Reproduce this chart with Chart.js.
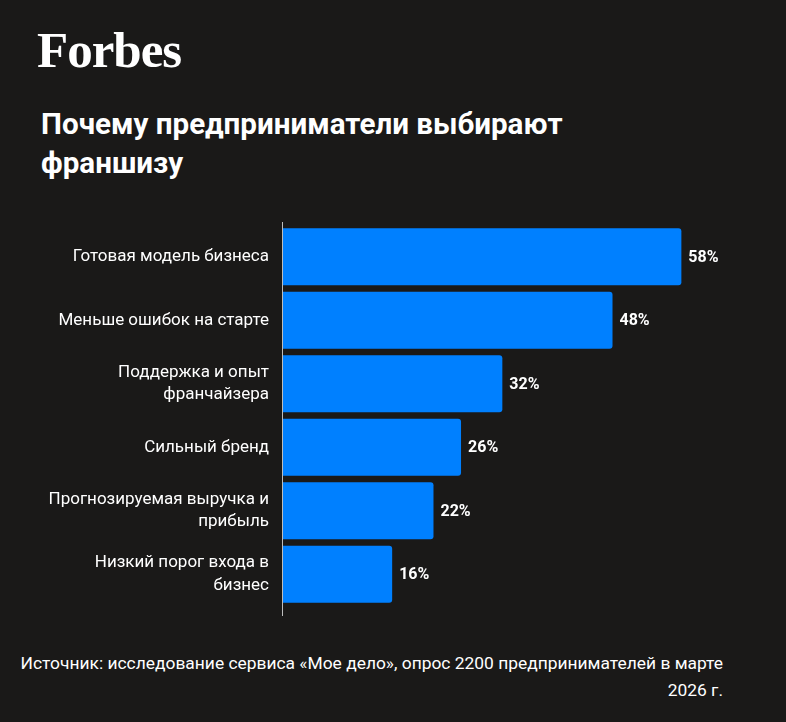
<!DOCTYPE html>
<html lang="ru">
<head>
<meta charset="utf-8">
<script src="https://cdn.jsdelivr.net/npm/chart.js@4.4.1/dist/chart.umd.min.js"></script>
<style>
  html, body { margin: 0; padding: 0; }
  body { width: 786px; height: 722px; background: #1a1918; position: relative; overflow: hidden; color: #fff; font-family: Roboto, sans-serif; }
  .logo { position: absolute; left: 37px; top: 25px; font-family: "Liberation Serif", serif; font-weight: bold; font-size: 51px; line-height: 51px; letter-spacing: -1px; }
  .title { position: absolute; left: 41px; top: 105px; font-weight: bold; font-size: 29.6px; line-height: 39px; margin: 0; }
  .wrap { position: absolute; left: 0; top: 210px; width: 786px; height: 420px; }
  .source { position: absolute; left: 0; width: 723px; top: 650px; text-align: right; font-size: 17.4px; line-height: 27px; }
</style>
</head>
<body>
<div class="logo">Forbes</div>
<h1 class="title">Почему предприниматели выбирают<br>франшизу</h1>
<div class="wrap"><canvas id="chart"></canvas></div>
<div class="source">Источник: исследование сервиса «Мое дело», опрос 2200 предпринимателей в марте<br>2026 г.</div>
<script>
// reasons (multi-line labels as arrays)
const categories = [
  'Готовая модель бизнеса',
  'Меньше ошибок на старте',
  ['Поддержка и опыт', 'франчайзера'],
  'Сильный бренд',
  ['Прогнозируемая выручка и', 'прибыль'],
  ['Низкий порог входа в', 'бизнес']
];
const shares = [58, 48, 32, 26, 22, 16];

// value labels at the end of each bar
const valueLabels = {
  id: 'valueLabels',
  afterDatasetsDraw(chart) {
    const ctx = chart.ctx;
    const meta = chart.getDatasetMeta(0);
    ctx.save();
    ctx.fillStyle = '#ffffff';
    ctx.font = 'bold 16px Roboto';
    ctx.textBaseline = 'middle';
    meta.data.forEach((bar, i) => {
      ctx.fillText(shares[i] + '%', bar.x + 7, bar.y + 1);
    });
    ctx.restore();
  }
};

// axis line runs a little past the bars
const axisLine = {
  id: 'axisLine',
  afterDraw(chart) {
    const a = chart.chartArea;
    const ctx = chart.ctx;
    ctx.save();
    ctx.strokeStyle = '#bdbdbd';
    ctx.lineWidth = 1;
    ctx.beginPath();
    ctx.moveTo(a.left + 0.5, a.top - 3);
    ctx.lineTo(a.left + 0.5, a.bottom + 10);
    ctx.stroke();
    ctx.restore();
  }
};

new Chart(document.getElementById('chart'), {
  type: 'bar',
  data: {
    labels: categories,
    datasets: [{
      data: shares,
      backgroundColor: '#0080ff',
      borderRadius: 3,
      borderSkipped: 'start',
      categoryPercentage: 0.9,
      barPercentage: 1
    }]
  },
  options: {
    indexAxis: 'y',
    responsive: true,
    maintainAspectRatio: false,
    animation: false,
    layout: { padding: { top: 15, bottom: 24, right: 22, left: 0 } },
    plugins: {
      legend: { display: false },
      tooltip: { enabled: false }
    },
    scales: {
      x: { display: false, min: 0, max: 70 },
      y: {
        grid: { display: false, drawTicks: false },
        border: { display: false },
        afterFit(scale) {
          scale.width = 282;
          scale.paddingTop = 0;
          scale.paddingBottom = 0;
        },
        ticks: {
          color: '#ffffff',
          padding: 13,
          font: { family: 'Roboto', size: 17, lineHeight: 1.3 }
        }
      }
    }
  },
  plugins: [valueLabels, axisLine]
});
</script>
</body>
</html>
